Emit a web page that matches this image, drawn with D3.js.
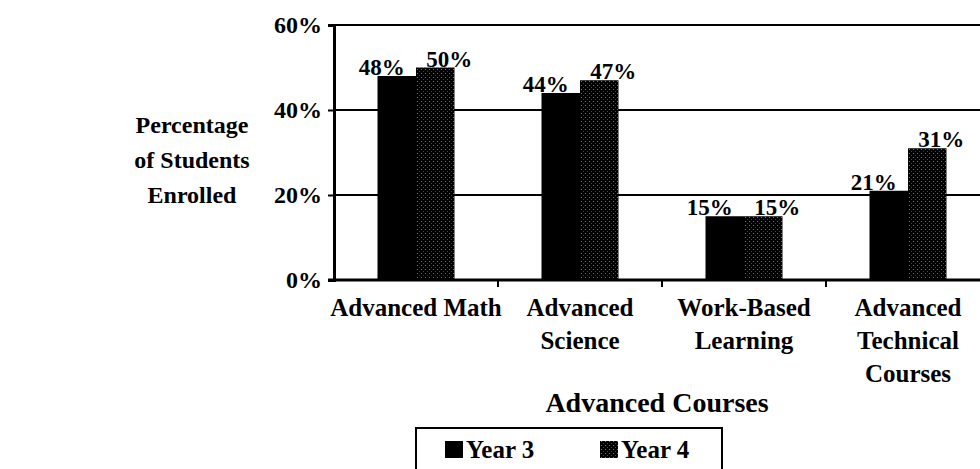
<!DOCTYPE html>
<html>
<head>
<meta charset="utf-8">
<script src="https://cdn.jsdelivr.net/npm/d3@7"></script>
<style>
  body { margin: 0; background: #fff; }
  text { font-family: "Liberation Serif", "Times New Roman", serif; font-weight: bold; fill: #000; }
</style>
</head>
<body>
<div id="chart"></div>
<script>
var width = 980,
height = 469;

// data
var categories = [["Advanced Math"], ["Advanced", "Science"], ["Work-Based", "Learning"], ["Advanced", "Technical", "Courses"]];
var series = ["Year 3", "Year 4"];
var year3 = [48, 44, 15, 21];
var year4 = [50, 47, 15, 31];
var yTicks = [0, 20, 40, 60];
var yTitle = ["Percentage", "of Students", "Enrolled"];
var xTitle = "Advanced Courses";

var svg = d3.select('#chart').append('svg')
.attr('width', width)
.attr('height', height);

// speckled fill for year 4
var defs = svg.append('defs');
var pat = defs.append('pattern')
    .attr('id', 'speckle')
    .attr('width', 4).attr('height', 4)
    .attr('patternUnits', 'userSpaceOnUse');
pat.append('rect').attr('width', 4).attr('height', 4).attr('fill', '#000');
pat.append('rect').attr('x', 1).attr('y', 1).attr('width', 1).attr('height', 1).attr('fill', '#777');
pat.append('rect').attr('x', 3).attr('y', 3).attr('width', 1).attr('height', 1).attr('fill', '#444');

var plotLeft = 334, plotRight = 990, plotTop = 25, plotBottom = 280;

let scaleX = d3.scaleBand().domain(d3.range(categories.length)).range([plotLeft, plotRight]);
let scaleSeries = d3.scaleBand().domain(series).range([0, scaleX.bandwidth()]).paddingOuter(1.13);
let scaleY = d3.scaleLinear().domain([0, 60]).range([plotBottom, plotTop]);

var fills = {"Year 3": "#000", "Year 4": "url(#speckle)"};

// gridlines
svg.append('g').selectAll('line').data(yTicks.filter(d => d > 0)).enter().append('line')
    .attr('x1', plotLeft).attr('x2', width)
    .attr('y1', d => scaleY(d)).attr('y2', d => scaleY(d))
    .attr('stroke', '#000').attr('stroke-width', 2);

// bars
var rows = [];
for (var i = 0; i < categories.length; i++) {
    rows.push({cat: i, s: "Year 3", v: year3[i]});
    rows.push({cat: i, s: "Year 4", v: year4[i]});
}

var g = svg.append('g');
g.selectAll('.bar').data(rows).enter().append('rect')
    .attr('class', 'bar')
    .attr('x', d => scaleX(d.cat) + scaleSeries(d.s))
    .attr('y', d => scaleY(d.v))
    .attr('width', scaleSeries.bandwidth())
    .attr('height', d => scaleY(0) - scaleY(d.v))
    .attr('fill', d => fills[d.s]);

// value labels (Year 3 nudged left, Year 4 nudged right like the original)
g.selectAll('.lbl').data(rows).enter().append('text')
    .attr('class', 'lbl')
    .attr('x', d => scaleX(d.cat) + scaleSeries(d.s) + scaleSeries.bandwidth() / 2 + (d.s == "Year 3" ? -15 : 14))
    .attr('y', d => scaleY(d.v) - 1)
    .attr('text-anchor', 'middle')
    .attr('font-size', 23)
    .text(d => d.v + '%');

// y axis
var axisY = d3.axisLeft(scaleY).tickValues(yTicks).tickSize(6).tickPadding(6).tickFormat(d => d + '%');
var ay = svg.append('g').attr('transform', 'translate(' + plotLeft + ',0)').call(axisY);
ay.select('.domain').attr('stroke-width', 3);
ay.selectAll('.tick line').attr('stroke-width', 2);
ay.selectAll('.tick text').attr('font-size', 24).attr('font-family', null);

// x axis
var axisX = d3.axisBottom(scaleX).tickSize(0).tickFormat('');
var ax = svg.append('g').attr('transform', 'translate(0,' + plotBottom + ')').call(axisX);
ax.select('.domain').remove();
ax.append('line').attr('x1', plotLeft - 6).attr('x2', width).attr('stroke', '#000').attr('stroke-width', 3);
ax.selectAll('.bnd').data(d3.range(1, categories.length)).enter().append('line')
    .attr('class', 'bnd')
    .attr('x1', d => scaleX(d)).attr('x2', d => scaleX(d))
    .attr('y1', 0).attr('y2', 7)
    .attr('stroke', '#000').attr('stroke-width', 2);

// category labels
var catG = svg.append('g').selectAll('text').data(categories).enter().append('text')
    .attr('text-anchor', 'middle')
    .attr('font-size', 25)
    .attr('transform', (d, i) => 'translate(' + (scaleX(i) + scaleX.bandwidth() / 2) + ',316)');
catG.selectAll('tspan').data(d => d).enter().append('tspan')
    .attr('x', 0)
    .attr('y', (d, i) => i * 33)
    .text(d => d);

// y title
svg.append('text')
    .attr('text-anchor', 'middle')
    .attr('font-size', 24)
    .selectAll('tspan').data(yTitle).enter().append('tspan')
    .attr('x', 192)
    .attr('y', (d, i) => 133 + i * 35)
    .text(d => d);

// x title
svg.append('text')
    .attr('x', 657).attr('y', 412)
    .attr('text-anchor', 'middle')
    .attr('font-size', 28)
    .text(xTitle);

// legend
var leg = svg.append('g');
leg.append('rect')
    .attr('x', 416).attr('y', 428).attr('width', 306).attr('height', 60)
    .attr('fill', 'none').attr('stroke', '#000').attr('stroke-width', 2);
var legX = d3.scalePoint().domain(series).range([445, 600]);
var li = leg.selectAll('.li').data(series).enter().append('g')
    .attr('transform', d => 'translate(' + legX(d) + ',0)');
li.append('rect').attr('x', 0).attr('y', 441).attr('width', 18).attr('height', 17).attr('fill', d => fills[d]);
li.append('text').attr('x', 21).attr('y', 458).attr('font-size', 25).text(d => d);
</script>
</body>
</html>
